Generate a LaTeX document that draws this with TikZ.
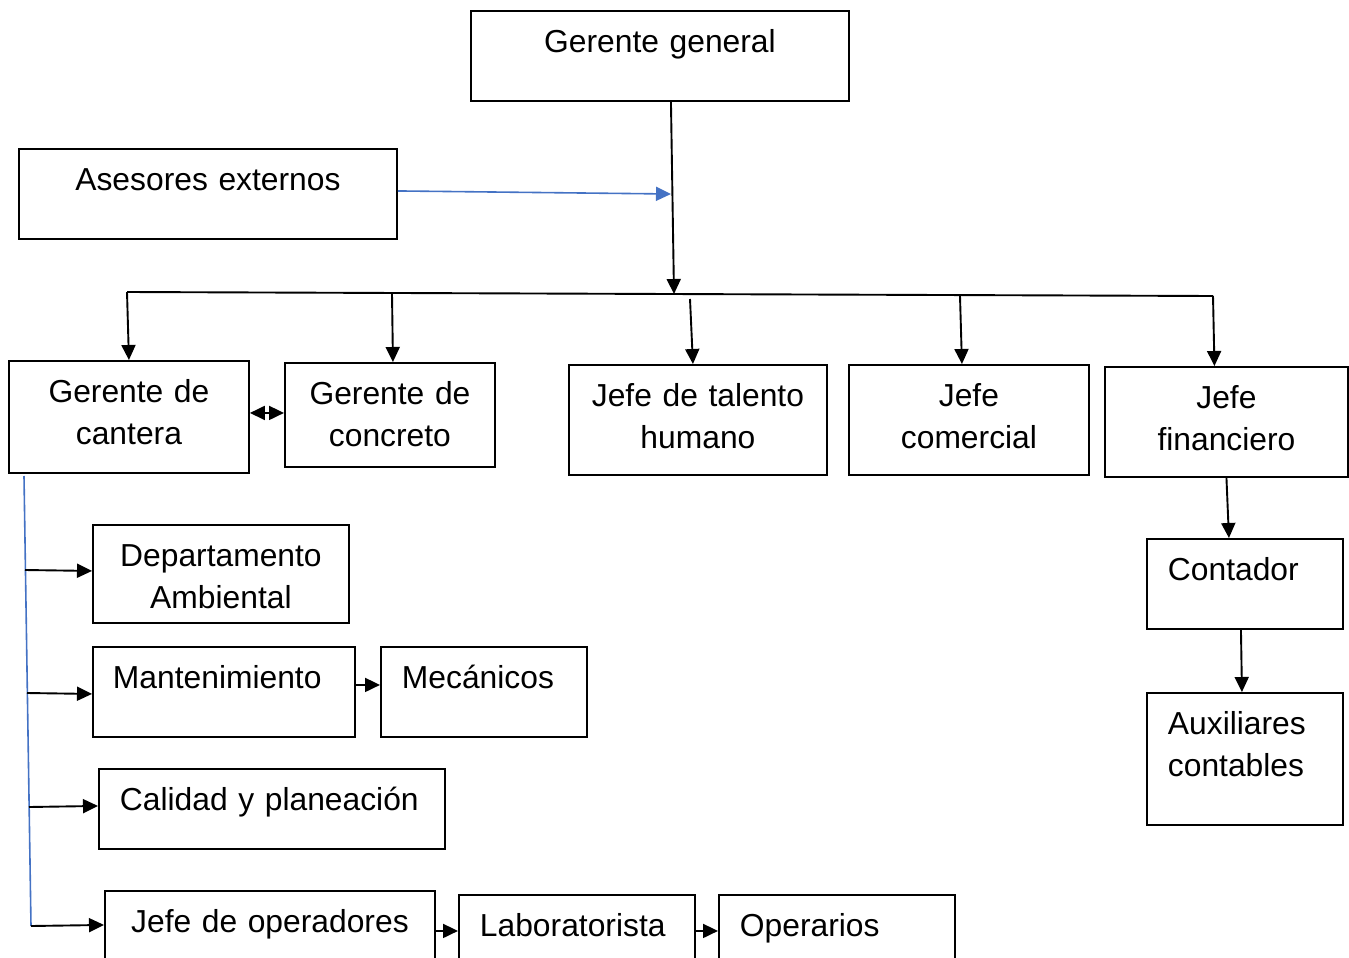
\documentclass[tikz,border=0pt]{standalone}
\usepackage{fontspec}
\setmainfont{Liberation Sans}
\usetikzlibrary{arrows.meta}
\definecolor{linkblue}{RGB}{68,114,196}
\newcommand{\boxfont}{\fontsize{31.8}{42}\selectfont}

\begin{document}
\begin{tikzpicture}[x=1pt,y=-1pt,
    box/.style={draw,line width=1.9pt,anchor=north west,inner sep=0pt,text height=42pt,align=center,font=\boxfont},
    lbox/.style={box,align=left,inner xsep=21pt},
    link/.style={line width=1.9pt},
    arr/.style={link,-{Triangle[length=15pt,width=14pt]}},
    darr/.style={link,{Triangle[length=15pt,width=14pt]}-{Triangle[length=15pt,width=14pt]}},
    bluelink/.style={linkblue,line width=1.6pt},
    bluearr/.style={bluelink,-{Triangle[length=15pt,width=14pt]}} ]
    \useasboundingbox (1,1) rectangle (1350,959);
    % top
    \node at (471,11) [box,text width=378pt,text depth=48pt] (gg) {Gerente general};
    \node at (19,149) [box,text width=378pt,text depth=48pt] (asesores) {Asesores externos};
    % second level
    \node at (9,361) [box,text width=240pt,text depth=70pt] (cantera) {Gerente de\\cantera};
    \node at (285,363) [box,text width=210pt,text depth=62pt] (concreto) {Gerente de\\concreto};
    \node at (569,365) [box,text width=258pt,text depth=68pt] (talento) {Jefe de talento\\humano};
    \node at (849,365) [box,text width=240pt,text depth=68pt] (comercial) {Jefe\\comercial};
    \node at (1105,367) [box,text width=243pt,text depth=68pt] (financiero) {Jefe\\financiero};
    % under cantera
    \node at (93,525) [box,text width=256pt,text depth=56pt] (ambiental) {Departamento\\Ambiental};
    \node at (93,647) [lbox,inner xsep=20pt,text width=222pt,text depth=48pt] (mant) {Mantenimiento};
    \node at (381,647) [lbox,text width=164pt,text depth=48pt] (mecanicos) {Mecánicos};
    \node at (99,769) [lbox,text width=304pt,text depth=38pt] (calidad) {Calidad y planeación};
    \node at (105,891) [box,text width=330pt,text depth=26pt] (operadores) {Jefe de operadores};
    \node at (459,895) [lbox,text width=194pt,text depth=30pt] (lab) {Laboratorista};
    \node at (719,895) [lbox,text width=194pt,text depth=30pt] (operarios) {Operarios};
    % under financiero
    \node at (1147,539) [lbox,text width=154pt,text depth=48pt] (contador) {Contador};
    \node at (1147,693) [lbox,text width=154pt,text depth=90pt] (auxiliares) {Auxiliares\\contables};
    \coordinate (hub) at (675,295);
    \coordinate (tap) at (672,195);
    \coordinate (bar w) at (128,293);
    \coordinate (bar e) at (1214,297);
    \coordinate (drop2) at (393,295);
    \coordinate (drop3) at (691,300);
    \coordinate (drop4) at (961,297);
    \coordinate (spine top) at (25,477);
    \coordinate (spine bot) at (32,927);
    \coordinate (br1) at (26,571);
    \coordinate (br2) at (28,694);
    \coordinate (br3) at (30,808);
    \draw [arr] ([xshift=11pt]gg.south) to (hub);
    \draw [bluearr] ([yshift=3pt]asesores.east) to (tap);
    \draw [link] (bar w) to (bar e);
    \draw [arr] (bar w) to (cantera.north);
    \draw [arr] (drop2) to ([xshift=3pt]concreto.north);
    \draw [arr] (drop3) to ([xshift=-5pt]talento.north);
    \draw [arr] (drop4) to ([xshift=-7pt]comercial.north);
    \draw [arr] (bar e) to ([xshift=-12pt]financiero.north);
    \draw [darr] ([yshift=4pt]cantera.east) to ([yshift=2pt]concreto.west);
    \draw [bluelink] (spine top) to (spine bot);
    \draw [arr] (br1) to ([yshift=3pt]ambiental.west);
    \draw [arr] (br2) to ([yshift=-2pt]mant.west);
    \draw [arr] (br3) to ([yshift=3pt]calidad.west);
    \draw [arr] (spine bot) to (operadores.west);
    \draw [arr] ([yshift=7pt]mant.east) to ([yshift=7pt]mecanicos.west);
    \draw [arr] ([yshift=-6pt]operadores.east) to (lab.west);
    \draw [arr] (lab.east) to (operarios.west);
    \draw [arr] (financiero.south) to ([xshift=-16pt]contador.north);
    \draw [arr] ([xshift=-4pt]contador.south) to ([xshift=-3pt]auxiliares.north);
\end{tikzpicture}
\end{document}
